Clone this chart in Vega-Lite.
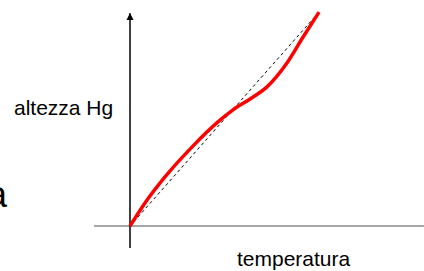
{
  "$schema": "https://vega.github.io/schema/vega-lite/v6.json",
  "width": 424,
  "height": 271,
  "padding": 0,
  "autosize": {"type": "none"},
  "config": {"view": {"stroke": null}, "background": "white"},
  "datasets": {
    "curve": [
      {"t": 0, "h": 0},
      {"t": 7.9, "h": 10.7},
      {"t": 18.4, "h": 22.8},
      {"t": 32.6, "h": 36.7},
      {"t": 46.3, "h": 48.4},
      {"t": 54.2, "h": 54.0},
      {"t": 63.2, "h": 59.1},
      {"t": 72.1, "h": 64.7},
      {"t": 82.6, "h": 75.8},
      {"t": 91.1, "h": 87.9},
      {"t": 99.5, "h": 99.5}
    ],
    "ideal": [
      {"t": 0, "h": 0},
      {"t": 100, "h": 100}
    ],
    "axes": [
      {"name": "temperatura", "x": -18.9, "x2": 154.7, "y": 0, "y2": 0},
      {"name": "altezza", "x": 0, "x2": 0, "y": -10.2, "y2": 99}
    ],
    "arrow": [{"x": 0, "y": 97.4}],
    "labels": [
      {"label": "altezza Hg", "x": -61.05, "y": 51.6},
      {"label": "temperatura", "x": 56.3, "y": -18.6},
      {"label": "a", "x": -64.7, "y": 8.84}
    ]
  },
  "layer": [
    {
      "data": {"name": "axes"},
      "transform": [{"filter": "datum.name === 'temperatura'"}],
      "mark": {"type": "rule", "color": "#888888", "strokeWidth": 1.5},
      "encoding": {
        "x": {"field": "x", "type": "quantitative", "scale": {"domain": [-68.42, 154.74], "nice": false, "zero": false}, "axis": null},
        "x2": {"field": "x2"},
        "y": {"field": "y", "type": "quantitative", "scale": {"domain": [-20.93, 105.12], "nice": false, "zero": false}, "axis": null}
      }
    },
    {
      "data": {"name": "axes"},
      "transform": [{"filter": "datum.name === 'altezza'"}],
      "mark": {"type": "rule", "color": "#000000", "strokeWidth": 1.5},
      "encoding": {
        "x": {"field": "x", "type": "quantitative", "axis": null},
        "y": {"field": "y", "type": "quantitative", "axis": null},
        "y2": {"field": "y2"}
      }
    },
    {
      "data": {"name": "arrow"},
      "mark": {"type": "point", "shape": "M0,-1L1,1L-1,1Z", "filled": true, "color": "#000000", "opacity": 1, "size": 49},
      "encoding": {
        "x": {"field": "x", "type": "quantitative", "axis": null},
        "y": {"field": "y", "type": "quantitative", "axis": null}
      }
    },
    {
      "data": {"name": "ideal"},
      "mark": {"type": "line", "color": "#000000", "strokeWidth": 1, "strokeDash": [3, 3]},
      "encoding": {
        "x": {"field": "t", "type": "quantitative", "axis": null},
        "y": {"field": "h", "type": "quantitative", "axis": null}
      }
    },
    {
      "data": {"name": "curve"},
      "mark": {"type": "line", "color": "#ff0000", "strokeWidth": 3.5, "interpolate": "monotone"},
      "encoding": {
        "x": {"field": "t", "type": "quantitative", "axis": null},
        "y": {"field": "h", "type": "quantitative", "axis": null}
      }
    },
    {
      "data": {"name": "labels"},
      "transform": [{"filter": "datum.label === 'altezza Hg'"}],
      "mark": {"type": "text", "align": "left", "baseline": "alphabetic", "font": "Liberation Sans", "fontSize": 21, "color": "#000000"},
      "encoding": {
        "x": {"field": "x", "type": "quantitative", "axis": null},
        "y": {"field": "y", "type": "quantitative", "axis": null},
        "text": {"field": "label"}
      }
    },
    {
      "data": {"name": "labels"},
      "transform": [{"filter": "datum.label === 'temperatura'"}],
      "mark": {"type": "text", "align": "left", "baseline": "alphabetic", "font": "Liberation Sans", "fontSize": 21, "color": "#000000"},
      "encoding": {
        "x": {"field": "x", "type": "quantitative", "axis": null},
        "y": {"field": "y", "type": "quantitative", "axis": null},
        "text": {"field": "label"}
      }
    },
    {
      "data": {"name": "labels"},
      "transform": [{"filter": "datum.label === 'a'"}],
      "mark": {"type": "text", "align": "right", "baseline": "alphabetic", "font": "Liberation Sans", "fontSize": 36, "color": "#000000"},
      "encoding": {
        "x": {"field": "x", "type": "quantitative", "axis": null},
        "y": {"field": "y", "type": "quantitative", "axis": null},
        "text": {"field": "label"}
      }
    }
  ]
}
